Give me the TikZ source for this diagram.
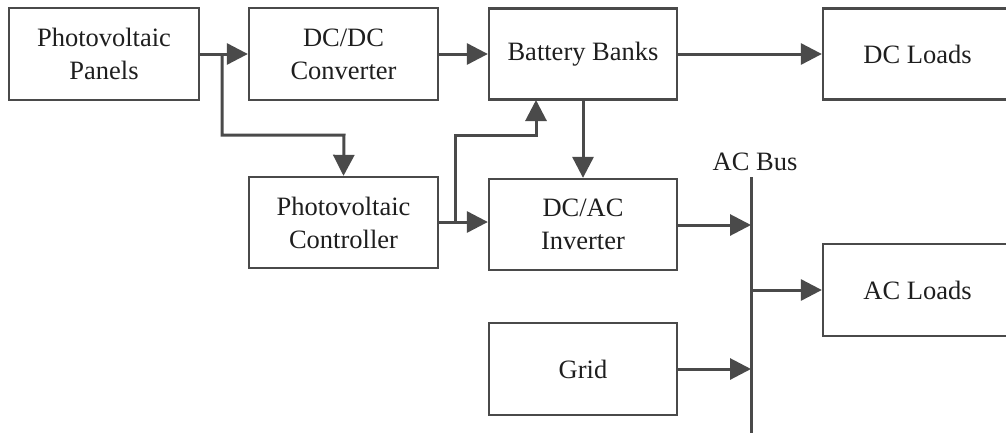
\documentclass[tikz,border=0pt]{standalone}
\usepackage{fontspec}
\setmainfont{Liberation Serif}
\usetikzlibrary{arrows.meta,calc}
\definecolor{ln}{HTML}{4A4A4A}
\definecolor{tx}{HTML}{1E1E1E}
\begin{document}
\begin{tikzpicture}[x=1pt,y=-1pt,
  blk/.style={draw=ln,line width=2.3pt,rectangle,inner sep=0pt,align=center,text=tx,
    font=\fontsize{26.5}{33}\selectfont},
  conn/.style={draw=ln,line width=3pt,-{Triangle[length=21pt,width=21pt]}},
  plain/.style={draw=ln,line width=3pt}]
\useasboundingbox (0,0) rectangle (1006,432);
\clip (0,0) rectangle (1006,432);
\node[blk,minimum width=190pt,minimum height=92pt] (pv) at (104,54) {Photovoltaic\\Panels};
\node[blk,minimum width=189pt,minimum height=92pt] (dcdc) at (343.5,54) {DC/DC\\Converter};
\node[blk,minimum width=188pt,minimum height=91pt] (bat) at (583,54) {Battery Banks};
\node[blk,minimum width=189pt,minimum height=91pt] (dcl) at (917.5,54) {DC Loads};
\node[blk,minimum width=189pt,minimum height=91pt] (ctrl) at (343.5,222.5) {Photovoltaic\\Controller};
\node[blk,minimum width=188pt,minimum height=91pt] (inv) at (583,224.5) {DC/AC\\Inverter};
\node[blk,minimum width=189pt,minimum height=92pt] (acl) at (917.5,290) {AC Loads};
\node[blk,minimum width=188pt,minimum height=92pt] (grid) at (583,369) {Grid};
\coordinate (bustop) at (751,177);
\coordinate (busbot) at (751,440);
\node[text=tx,font=\fontsize{26.5}{33}\selectfont] (buslbl) at (755,162) {AC Bus};
\draw[plain] (bustop) -- (busbot);
% PV panels
\coordinate (j1) at (222,54);
\draw[conn] (pv.east) -- (dcdc.west);
\draw[conn] (j1) |- (344,135) -- (ctrl.north);
\draw[conn] (dcdc.east) -- (bat.west);
\draw[conn] (bat.east) -- (dcl.west);
\draw[conn] (bat.south) -- (inv.north);
% controller
\coordinate (j2) at (455,222);
\draw[conn] (ctrl.east |- j2) -- (inv.west |- j2);
\draw[conn] (j2) |- (536,135) -- (536,100);
% AC side
\draw[conn] (inv.east |- 0,225) -- (751,225);
\draw[conn] (751,290) -- (acl.west);
\draw[conn] (grid.east) -- (751,369);
\end{tikzpicture}
\end{document}
